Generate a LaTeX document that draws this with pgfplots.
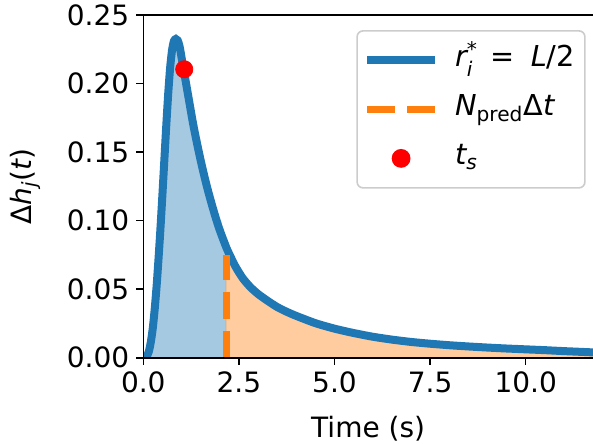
\documentclass[border=0pt]{standalone}
\usepackage{fontspec}
\setmainfont{DejaVu Sans}
\usepackage{amsmath}
\usepackage{pgfplots}
\pgfplotsset{compat=1.18}
\usepgfplotslibrary{fillbetween}
\definecolor{c0}{HTML}{1F77B4}
\definecolor{c1}{HTML}{FF7F0E}

\pgfplotstableread{
t dh
0.00 0.0000
0.05 0.0003
0.10 0.0015
0.15 0.0050
0.20 0.0120
0.25 0.0220
0.30 0.0360
0.35 0.0530
0.40 0.0730
0.45 0.0950
0.50 0.1190
0.55 0.1440
0.60 0.1690
0.65 0.1920
0.70 0.2110
0.75 0.2240
0.80 0.2310
0.85 0.2325
0.90 0.2315
0.95 0.2270
1.00 0.2190
1.05 0.2110
1.10 0.2030
1.15 0.1950
1.20 0.1870
1.30 0.1710
1.40 0.1570
1.50 0.1440
1.60 0.1320
1.70 0.1210
1.80 0.1110
1.90 0.1015
2.00 0.0930
2.10 0.0855
2.20 0.0785
2.40 0.0670
2.60 0.0580
2.80 0.0515
3.00 0.0465
3.25 0.0415
3.50 0.0370
3.75 0.0335
4.00 0.0305
4.50 0.0252
5.00 0.0212
5.50 0.0180
6.00 0.0153
6.50 0.0132
7.00 0.0115
7.50 0.0102
8.00 0.0091
8.50 0.0082
9.00 0.0074
9.50 0.0067
10.00 0.0061
10.50 0.0055
11.00 0.0048
11.50 0.0042
11.80 0.0038
}\curvedata

\begin{document}
\begin{tikzpicture}[font=\fontsize{14bp}{16.8bp}\selectfont]
\begin{axis}[
  at={(0,0)}, anchor=south west,
  width=224.85bp, height=171.35bp, scale only axis,
  xmin=0, xmax=11.76, ymin=0, ymax=0.25,
  enlargelimits=false,
  axis x line=box, axis y line=left,
  x axis line style={-}, y axis line style={-},
  axis line style={line width=0.8bp, black},
  xtick pos=left, ytick pos=left,
  tick align=outside,
  major tick length=3.5bp,
  tick style={line width=0.8bp, black},
  xtick={0,2.5,5,7.5,10},
  ytick={0,0.05,0.10,0.15,0.20,0.25},
  /pgf/number format/assume math mode=true,
  xticklabel style={/pgf/number format/.cd, fixed, fixed zerofill, precision=1},
  yticklabel style={/pgf/number format/.cd, fixed, fixed zerofill, precision=2},
  scaled y ticks=false,
  every axis x label/.style={at={(rel axis cs:0.5,0)}, yshift=-39.75bp, anchor=base},
  every axis y label/.style={at={(rel axis cs:0,0.5)}, xshift=-58.8bp, rotate=90, anchor=center},
  xlabel={Time (s)},
  ylabel={$\text{Δ}\textit{h}_{\textit{j}}\text{(}\textit{t}\text{)}$},
  axis on top,
  legend style={at={(0.9838,0.956)}, anchor=north east,
    draw=black!20, line width=0.8bp, rounded corners=3bp,
    fill=white, fill opacity=0.8, text opacity=1,
    inner xsep=3bp, inner ysep=6bp, row sep=7bp,
    nodes={inner sep=2bp, text height=10bp, text depth=3.5bp},
    font=\fontsize{14.4bp}{17bp}\selectfont},
  legend cell align=left,
]
\addplot[draw=none, name path=zero, forget plot] coordinates {(0,0) (11.8,0)};
\addplot[c0, line width=4bp, smooth, tension=0.4, name path=curve,
  legend image code/.code={\draw[c0, line width=4bp, draw opacity=1] (0bp,0bp) -- (34bp,0bp); \path (40bp,0bp);}]
  table[x=t, y=dh] {\curvedata};
\addlegendentry{$\textit{r}^{\text{*}}_{\textit{i}} \mskip 3mu\mathrel{\text{=}}\mskip 5mu \textit{L}\text{/2}$}
\addplot[fill=c0, fill opacity=0.4, draw=none, forget plot]
  fill between[of=curve and zero, soft clip={domain=0:2.17}];
\addplot[fill=c1, fill opacity=0.4, draw=none, forget plot]
  fill between[of=curve and zero, soft clip={domain=2.15:11.8}];
\addplot[c1, line width=3.7bp, dash pattern=on 13.5bp off 6bp,
  legend image code/.code={\draw[c1, line width=3.7bp, draw opacity=1, dash pattern=on 14bp off 6bp] (0bp,0bp) -- (34bp,0bp); \path (40bp,0bp);}]
  coordinates {(2.17,0) (2.17,0.075)};
\addlegendentry{$\textit{N}_{\text{pred}}\text{Δ}\textit{t}$}
\addplot[only marks, mark=*, mark size=4.3bp, red, mark options={draw=red, fill=red},
  legend image code/.code={\path (0bp,0bp) (40bp,0bp); \fill[red, fill opacity=1] (17bp,0bp) circle (4.3bp);}]
  coordinates {(1.07,0.2104)};
\addlegendentry{$\textit{t}_{\textit{s}}$}
\end{axis}
\pgfresetboundingbox
\useasboundingbox (-71.65bp,-43.15bp) rectangle (224.85bp,178.85bp);
\end{tikzpicture}
\end{document}
